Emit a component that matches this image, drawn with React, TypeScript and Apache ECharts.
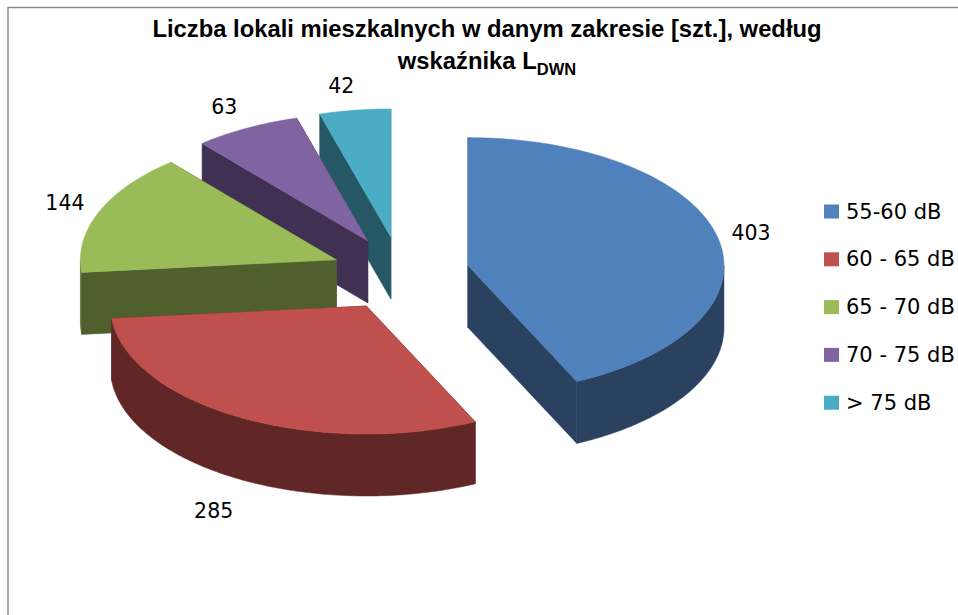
import React, { useEffect, useRef } from "react";
import * as echarts from "echarts";

const categories = ["55-60 dB", "60 - 65 dB", "65 - 70 dB", "70 - 75 dB", "> 75 dB"];
const values = [403, 285, 144, 63, 42];
const topColors = ["#4F81BD", "#C0504D", "#9BBB59", "#8064A2", "#4BACC6"];
const wallColors = ["#2A4160", "#602726", "#4F602D", "#403152", "#255765"];
const drawOrder = [4, 5, 3, 2, 1];

const CX = 400.5;
const CY = 273.7;
const RX = 256;
const RY = 128;
const DEPTH = 62;
const EXPLODE_X = 0.27;
const EXPLODE_Y = 0.29;
const total = values.reduce((a, b) => a + b, 0);

function renderSlice(index: number) {
  return (_params: any, api: any) => {
    const value = api.value(0);
    const before = values.slice(0, index).reduce((a, b) => a + b, 0);
    const a0 = (before / total) * 360;
    const a1 = a0 + (value / total) * 360;
    const mid = (((a0 + a1) / 2) * Math.PI) / 180;
    const ax = CX + EXPLODE_X * RX * Math.sin(mid);
    const ay = CY - EXPLODE_Y * RY * Math.cos(mid);
    const pt = (deg: number, down = 0) => {
      const r = (deg * Math.PI) / 180;
      return [ax + RX * Math.sin(r), ay - RY * Math.cos(r) + down];
    };
    const arc = (from: number, to: number, down = 0) => {
      const out: number[][] = [];
      const n = Math.max(2, Math.ceil(Math.abs(to - from)));
      for (let i = 0; i <= n; i++) out.push(pt(from + ((to - from) * i) / n, down));
      return out;
    };
    const wall = wallColors[index];
    const children: any[] = [];
    const cut = (deg: number) => {
      const p = pt(deg);
      return {
        type: "polygon",
        shape: { points: [[ax, ay], p, [p[0], p[1] + DEPTH], [ax, ay + DEPTH]] },
        style: { fill: wall, stroke: wall, lineWidth: 0.5 },
      };
    };
    children.push(cut(a0));
    children.push(cut(a1));
    const from = Math.max(a0, 90);
    const to = Math.min(a1, 270);
    if (to > from) {
      children.push({
        type: "polygon",
        shape: { points: [...arc(from, to), ...arc(to, from, DEPTH)] },
        style: { fill: wall, stroke: wall, lineWidth: 0.5 },
      });
    }
    children.push({
      type: "polygon",
      shape: { points: [[ax, ay], ...arc(a0, a1)] },
      style: { fill: topColors[index], stroke: topColors[index], lineWidth: 0.5 },
    });
    const sx = Math.sin(mid);
    const cy = Math.cos(mid);
    const edge = [ax + RX * sx, ay - RY * cy];
    const lx = edge[0] + (sx > 0 ? 34 * sx : 26 * sx - 10 - 4 * Math.max(0, -cy));
    const ly = edge[1] + (cy > 0 ? -24 * cy : DEPTH + 9 - 26 * cy);
    children.push({
      type: "text",
      z2: 10,
      style: {
        text: String(value),
        x: lx,
        y: ly,
        fill: "#000",
        fontSize: 20.5,
        fontFamily: "DejaVu Sans",
        align: "center",
        verticalAlign: "middle",
      },
    });
    return { type: "group", children };
  };
}

export default function App() {
  const ref = useRef<HTMLDivElement>(null);
  useEffect(() => {
    const chart = echarts.init(ref.current!, undefined, { renderer: "svg" });
    chart.setOption({
      animation: false,
      backgroundColor: "#fff",
      title: {
        left: 482,
        top: 7,
        textAlign: "center",
        text: "{a|Liczba lokali mieszkalnych w danym zakresie [szt.], według}\n{a|wskaźnika L}{s|DWN}",
        textStyle: {
          rich: {
            a: { fontFamily: "Liberation Sans", fontWeight: "bold", fontSize: 23.8, lineHeight: 32.5, color: "#000" },
            s: { fontFamily: "Liberation Sans", fontWeight: "bold", fontSize: 16.5, lineHeight: 32.5, color: "#000", verticalAlign: "bottom", padding: [8, 0, 0, 0] },
          },
        },
      },
      legend: {
        orient: "vertical",
        left: 824,
        top: 201,
        itemWidth: 15,
        itemHeight: 14,
        itemGap: 26.8,
        icon: "rect",
        padding: 0,
        data: categories,
        selectedMode: false,
        textStyle: { fontFamily: "DejaVu Sans", fontSize: 21, color: "#000", padding: [0, 0, 0, 2] },
      },
      graphic: [
        { type: "line", shape: { x1: 8, y1: 7.5, x2: 958, y2: 7.5 }, style: { stroke: "#8C8C8C", lineWidth: 1.5 } },
        { type: "line", shape: { x1: 8, y1: 7, x2: 8, y2: 615 }, style: { stroke: "#8C8C8C", lineWidth: 1.5 } },
      ],
      series: categories.map((name, i) => ({
        type: "custom",
        name,
        coordinateSystem: "none",
        z: drawOrder[i],
        itemStyle: { color: topColors[i] },
        data: [[values[i]]],
        renderItem: renderSlice(i),
      })),
    });
    return () => chart.dispose();
  }, []);
  return <div ref={ref} style={{ position: "absolute", left: 0, top: 0, width: 958, height: 615 }} />;
}
